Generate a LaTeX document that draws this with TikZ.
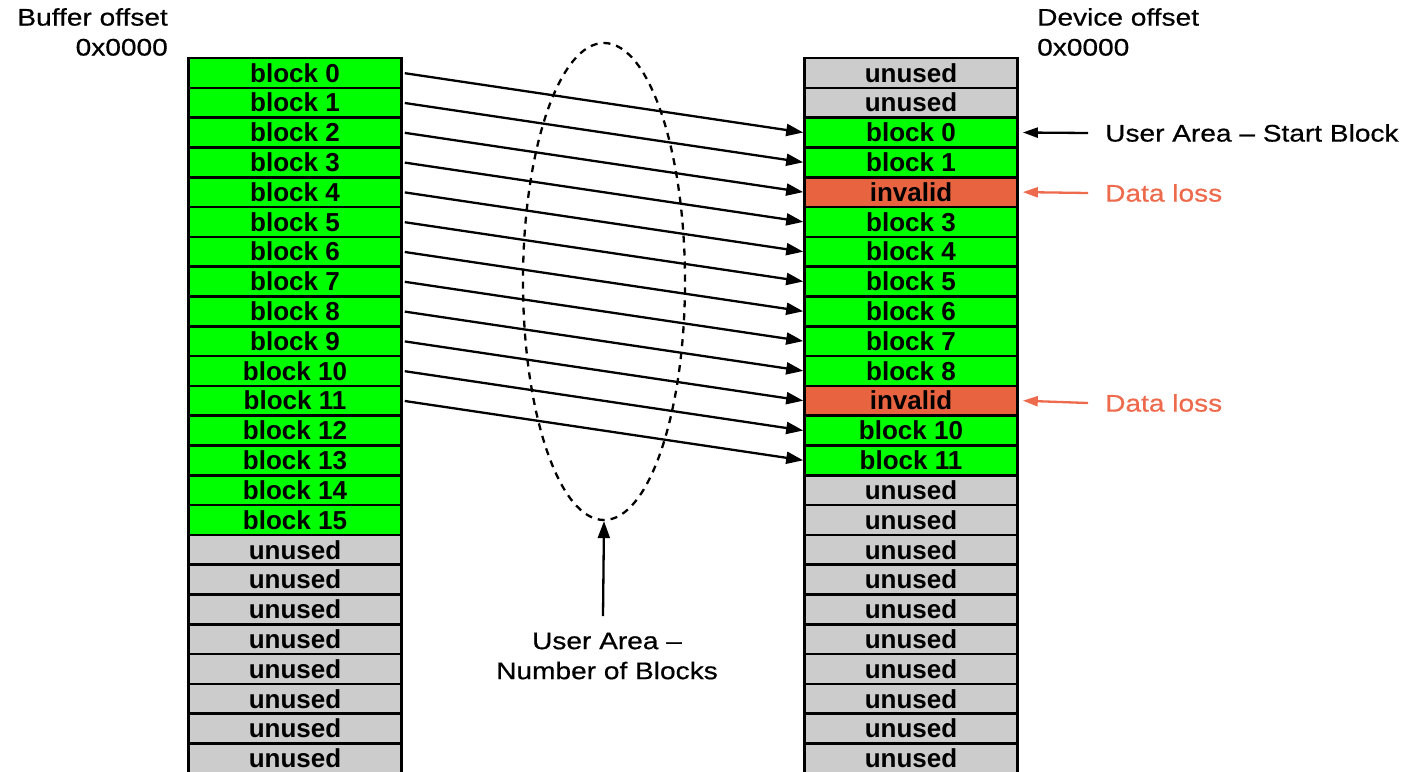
\documentclass[tikz,border=0pt]{standalone}
\usepackage{fontspec}
\setmainfont{Liberation Sans}
\newfontfamily\labfont[FakeStretch=1.17,FakeBold=0.6]{Liberation Sans}
\usetikzlibrary{arrows.meta,shapes.geometric}
\definecolor{blkgreen}{RGB}{0,255,0}
\definecolor{blkgray}{RGB}{204,204,204}
\definecolor{blkred}{RGB}{232,100,64}
\definecolor{losscol}{RGB}{238,106,76}
\tikzset{
  cell/.style={draw=black, line width=2.6pt, minimum width=213pt, minimum height=29.8pt,
    inner sep=0pt, font=\fontsize{26}{28}\selectfont\bfseries, anchor=center},
  gcell/.style={cell, fill=blkgreen},
  ucell/.style={cell, fill=blkgray},
  rcell/.style={cell, fill=blkred},
  maparrow/.style={line width=2.3pt, -{Triangle[length=17pt,width=12pt]}, shorten <=2pt},
  sidearrow/.style={line width=2.3pt, -{Triangle[length=15pt,width=10pt]}},
  lab/.style={font=\labfont\fontsize{24}{30}\selectfont, inner sep=0pt},
}
\begin{document}
\begin{tikzpicture}[x=1pt,y=-1pt]
\useasboundingbox (0,0) rectangle (1415,771);
% left column
\foreach \k in {0,...,23}{
  \pgfmathsetmacro{\yy}{58+(\k+0.5)*29.8}
  \ifnum\k<16
    \node[gcell] (L\k) at (295,\yy) {block \k};
  \else
    \node[ucell] (L\k) at (295,\yy) {unused};
  \fi
}
% right column
\foreach \k/\t/\s in {0/unused/ucell,1/unused/ucell,2/block 0/gcell,3/block 1/gcell,
  4/invalid/rcell,5/block 3/gcell,6/block 4/gcell,7/block 5/gcell,8/block 6/gcell,
  9/block 7/gcell,10/block 8/gcell,11/invalid/rcell,12/block 10/gcell,13/block 11/gcell,
  14/unused/ucell,15/unused/ucell,16/unused/ucell,17/unused/ucell,18/unused/ucell,
  19/unused/ucell,20/unused/ucell,21/unused/ucell,22/unused/ucell,23/unused/ucell}{
  \pgfmathsetmacro{\yy}{58+(\k+0.5)*29.8}
  \node[\s] (R\k) at (911,\yy) {\t};
}
% mapping arrows
\foreach \i in {0,...,11}{
  \pgfmathtruncatemacro{\j}{\i+2}
  \draw[maparrow] (L\i.east) -- (R\j.west);
}
% ellipse
\node[draw, dash pattern=on 7pt off 6pt, line width=2.3pt, ellipse,
  minimum width=162pt, minimum height=477pt, inner sep=0pt] (ell) at (604,281.5) {};
% bottom label
\node[lab, align=center] (nb) at (607,656) {User Area –\\Number of Blocks};
\coordinate (nbtop) at (603,616);
\draw[sidearrow, -{Triangle[length=17pt,width=12pt]}] (nbtop) -- (ell.south);
% headers
\node[lab, anchor=north east, align=right] (bo) at (168,8) {Buffer offset\\0x0000};
\node[lab, anchor=north west, align=left] (dof) at (1037,8) {Device offset\\0x0000};
% side labels
\node[lab, anchor=west] (sb) at (1105,133) {User Area – Start Block};
\node[lab, anchor=west, text=losscol] (dl1) at (1105,193) {Data loss};
\node[lab, anchor=west, text=losscol] (dl2) at (1105,403) {Data loss};
\draw[sidearrow] ([xshift=-17pt]sb.west) -- ([xshift=4pt]R2.east);
\draw[sidearrow, draw=losscol, fill=losscol] ([xshift=-17pt]dl1.west) -- ([xshift=4pt]R4.east);
\draw[sidearrow, draw=losscol, fill=losscol] ([xshift=-17pt]dl2.west) -- ([xshift=4pt]R11.east);
\end{tikzpicture}
\end{document}
